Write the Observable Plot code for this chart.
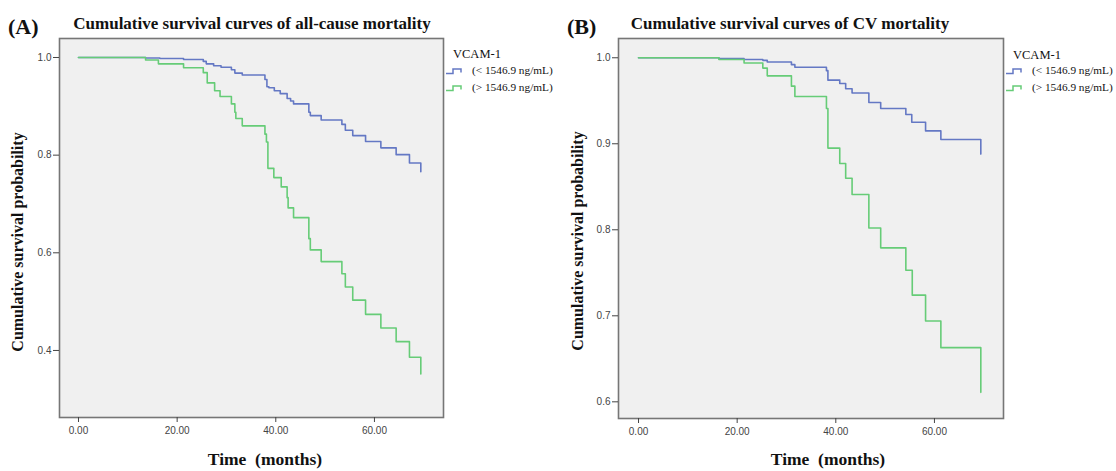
<!DOCTYPE html>
<html>
<head>
<meta charset="utf-8">
<script src="https://cdn.jsdelivr.net/npm/d3@7"></script>
<script src="https://cdn.jsdelivr.net/npm/@observablehq/plot@0.6"></script>
<style>
  html, body { margin: 0; padding: 0; background: #fff; }
  #page { position: relative; width: 1116px; height: 471px; overflow: hidden; background: #fff; }
  .abs { position: absolute; white-space: pre; font-family: "Liberation Serif", "Times New Roman", serif; color: #111; }
  .b { font-weight: bold; }
  .panel { position: absolute; top: 0; }
</style>
</head>
<body>
<div id="page"></div>
<script>
// ---------- data ----------
const groups = ["(< 1546.9 ng/mL)", "(> 1546.9 ng/mL)"];
const legendTitle = "VCAM-1";
const xTicks = [0, 20, 40, 60];
const yTicksA = [0.4, 0.6, 0.8, 1.0];
const yTicksB = [0.6, 0.7, 0.8, 0.9, 1.0];

// Panel A: all-cause mortality
const timeA_low = [0, 13.6, 16.5, 21.3, 25.3, 25.9, 27.4, 28.9, 31.0, 31.7, 33.2, 37.8, 38.2, 38.6, 39.7, 40.9, 42.3, 43.0, 43.6, 46.7, 47.0, 49.2, 53.4, 54.1, 55.6, 58.2, 61.3, 64.4, 67.1, 69.4];
const survA_low = [1.0, 0.999, 0.998, 0.996, 0.992, 0.987, 0.983, 0.980, 0.975, 0.968, 0.964, 0.955, 0.940, 0.938, 0.932, 0.926, 0.916, 0.911, 0.905, 0.888, 0.881, 0.872, 0.863, 0.851, 0.840, 0.828, 0.815, 0.801, 0.784, 0.766];
const timeA_high = [0, 13.6, 16.2, 21.3, 25.3, 26.1, 27.6, 28.7, 31.0, 31.7, 31.9, 33.2, 37.8, 38.1, 38.4, 39.6, 41.1, 42.3, 42.5, 43.6, 46.7, 47.0, 49.2, 53.4, 54.1, 55.6, 58.2, 61.3, 64.4, 67.1, 69.4];
const survA_high = [1.0, 0.995, 0.987, 0.979, 0.969, 0.948, 0.932, 0.920, 0.905, 0.888, 0.875, 0.860, 0.843, 0.827, 0.773, 0.754, 0.735, 0.713, 0.692, 0.672, 0.629, 0.606, 0.582, 0.557, 0.530, 0.503, 0.474, 0.446, 0.418, 0.386, 0.352];

// Panel B: CV mortality
const timeB_low = [0, 16.3, 21.4, 25.2, 26.1, 31.0, 31.7, 38.1, 38.4, 40.8, 42.0, 43.3, 46.7, 49.1, 54.2, 55.4, 58.2, 61.3, 69.4];
const survB_low = [1.0, 0.999, 0.998, 0.997, 0.995, 0.992, 0.989, 0.985, 0.974, 0.970, 0.964, 0.959, 0.948, 0.941, 0.934, 0.925, 0.915, 0.905, 0.888];
const timeB_high = [0, 16.3, 21.4, 25.2, 26.1, 31.0, 31.7, 38.1, 38.4, 40.8, 42.0, 43.3, 46.7, 49.1, 54.2, 55.5, 58.2, 61.3, 69.4];
const survB_high = [1.0, 0.998, 0.994, 0.988, 0.979, 0.967, 0.955, 0.941, 0.895, 0.877, 0.860, 0.841, 0.802, 0.779, 0.753, 0.724, 0.694, 0.663, 0.611];

// ---------- styling ----------
const colors = ["#6478c4", "#66cc77"];

function toRows(times, survs, g) {
  return times.map((t, i) => ({t, s: survs[i], g}));
}

function makePanel(cfg) {
  const rows = toRows(cfg.tLow, cfg.sLow, groups[0]).concat(toRows(cfg.tHigh, cfg.sHigh, groups[1]));
  return Plot.plot({
    width: cfg.width,
    height: 471,
    marginLeft: cfg.ml,
    marginRight: cfg.mr,
    marginTop: 38,
    marginBottom: cfg.mb,
    style: {fontFamily: "'Liberation Sans', Arial, sans-serif", fontSize: "10px", background: "transparent", color: "#333"},
    x: {domain: cfg.xDomain},
    y: {domain: cfg.yDomain},
    color: {domain: groups, range: colors},
    marks: [
      Plot.frame({fill: "#f0f0f0", stroke: "#767676", strokeWidth: 1.6}),
      Plot.line(rows, {x: "t", y: "s", z: "g", stroke: "g", curve: "step-after", strokeWidth: 1.6}),
      Plot.axisX({ticks: xTicks, tickFormat: d3.format(".2f"), tickSize: 5, tickPadding: 4, label: null, stroke: "#444", fill: "#444"}),
      Plot.axisY({ticks: cfg.yTicks, tickFormat: d3.format(".1f"), tickSize: 6, tickPadding: 2, label: null, stroke: "#444", fill: "#444"})
    ]
  });
}

const page = document.getElementById("page");

function addPanel(left, cfg) {
  const div = document.createElement("div");
  div.className = "panel";
  div.style.left = left + "px";
  div.appendChild(makePanel(cfg));
  page.appendChild(div);
}

addPanel(0, {
  width: 560, ml: 59, mr: 117, mb: 54,
  xDomain: [-3.85, 74.0], yDomain: [0.2627, 1.0389], yTicks: yTicksA,
  tLow: timeA_low, sLow: survA_low, tHigh: timeA_high, sHigh: survA_high
});
addPanel(560, {
  width: 556, ml: 58, mr: 113, mb: 53,
  xDomain: [-4.06, 74.0], yDomain: [0.5806, 1.0224], yTicks: yTicksB,
  tLow: timeB_low, sLow: survB_low, tHigh: timeB_high, sHigh: survB_high
});

function addText(txt, opts) {
  const d = document.createElement("div");
  d.className = "abs" + (opts.bold ? " b" : "");
  d.textContent = txt;
  d.style.fontSize = opts.size + "px";
  d.style.lineHeight = "1";
  if (opts.center) {
    d.style.left = (opts.x - 300) + "px";
    d.style.width = "600px";
    d.style.textAlign = "center";
  } else {
    d.style.left = opts.x + "px";
  }
  d.style.top = (opts.y - opts.size / 2) + "px";
  if (opts.rotate) {
    d.style.left = (opts.x - 300) + "px";
    d.style.width = "600px";
    d.style.textAlign = "center";
    d.style.transform = "rotate(-90deg)";
    d.style.transformOrigin = "300px " + (opts.size / 2) + "px";
  }
  page.appendChild(d);
}

// Panel labels & titles
addText("(A)", {x: 8, y: 27, size: 22, bold: true});
addText("Cumulative survival curves of all-cause mortality", {x: 252, y: 23, size: 17, bold: true, center: true});
addText("(B)", {x: 567, y: 27, size: 22, bold: true});
addText("Cumulative survival curves of CV mortality", {x: 790, y: 23, size: 17, bold: true, center: true});

// Axis titles
addText("Cumulative survival probability", {x: 18, y: 242, size: 16, bold: true, rotate: true});
addText("Cumulative survival probability", {x: 578, y: 241, size: 16, bold: true, rotate: true});
addText("Time  (months)", {x: 265, y: 460, size: 17.5, bold: true, center: true});
addText("Time  (months)", {x: 828, y: 460, size: 17.5, bold: true, center: true});

// Legends
function addLegend(x0, yTitle, rowYs, textX) {
  addText(legendTitle, {x: x0 + 8, y: yTitle, size: 12.5});
  groups.forEach((g, i) => {
    const ns = "http://www.w3.org/2000/svg";
    const svg = document.createElementNS(ns, "svg");
    svg.setAttribute("width", 20);
    svg.setAttribute("height", 8);
    svg.style.position = "absolute";
    svg.style.left = x0 + "px";
    svg.style.top = (rowYs[i] - 4) + "px";
    const p = document.createElementNS(ns, "path");
    p.setAttribute("d", "M1,6.5 H8 V2 H16 V5.5");
    p.setAttribute("fill", "none");
    p.setAttribute("stroke", colors[i]);
    p.setAttribute("stroke-width", "1.5");
    svg.appendChild(p);
    page.appendChild(svg);
    addText(g, {x: textX, y: rowYs[i], size: 11.3});
  });
}
addLegend(445, 54, [71, 88], 472);
addLegend(1005, 55, [71, 87.5], 1032);
</script>
</body>
</html>
